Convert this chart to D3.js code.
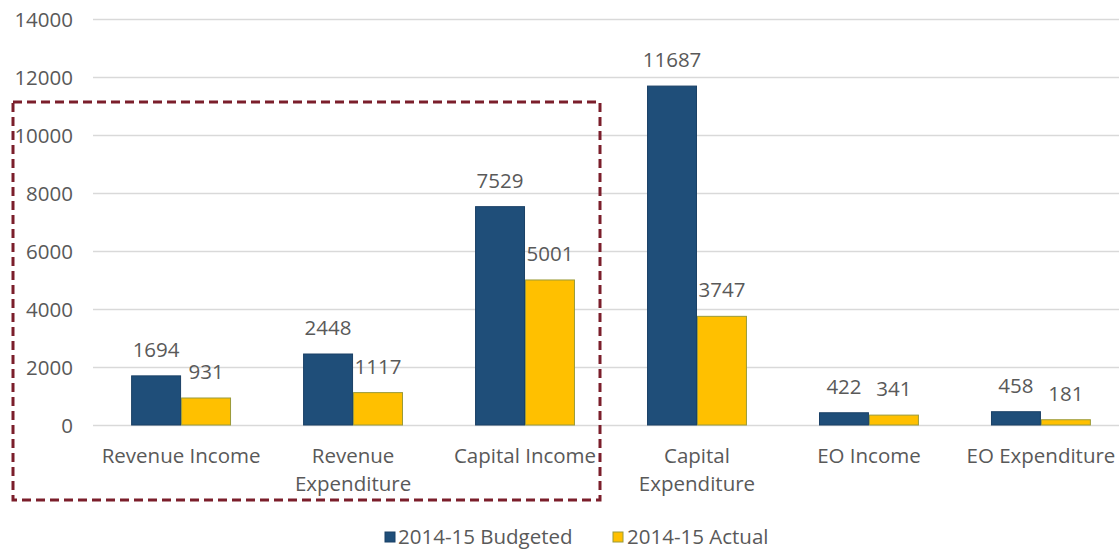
<!DOCTYPE html>
<html>
<head>
<meta charset="utf-8">
<script src="https://cdn.jsdelivr.net/npm/d3@7"></script>
<style>
  html, body { margin: 0; padding: 0; background: #ffffff; }
  svg { display: block; }
  text { font-family: "Open Sans", Lato, sans-serif; fill: #595959; }
</style>
</head>
<body>
<svg id="chart" width="1119" height="549"></svg>
<script>
// Budget vs actual, 2014-15
const categories = [
  ["Revenue Income"],
  ["Revenue", "Expenditure"],
  ["Capital Income"],
  ["Capital", "Expenditure"],
  ["EO Income"],
  ["EO Expenditure"]
];
const seriesNames = ["2014-15 Budgeted", "2014-15 Actual"];
const budgeted = [1694, 2448, 7529, 11687, 422, 458];
const actual = [931, 1117, 5001, 3747, 341, 181];
const yTicks = [0, 2000, 4000, 6000, 8000, 10000, 12000, 14000];

const colors = ["#1F4E79", "#FFC000"];
const strokes = ["#1a4066", "#9a9a3a"];
const fontSize = 20.5;

const svg = d3.select("#chart");
const catKeys = categories.map(c => c.join(" "));

const x = d3.scaleBand()
  .domain(catKeys)
  .range([95, 1127])
  .paddingInner(0.419)
  .paddingOuter(0.21);

const sub = d3.scaleBand()
  .domain(seriesNames)
  .range([0, x.bandwidth()]);

const y = d3.scaleLinear()
  .domain([0, 14000])
  .range([425, 19]);

// gridlines
svg.append("g")
  .selectAll("line")
  .data(yTicks)
  .join("line")
  .attr("x1", 93)
  .attr("x2", 1119)
  .attr("y1", d => y(d) + 0.5)
  .attr("y2", d => y(d) + 0.5)
  .attr("stroke", "#d9d9d9")
  .attr("stroke-width", 1.3);

// y axis labels
const yAxis = d3.axisLeft(y).tickValues(yTicks).tickFormat(d3.format("d")).tickSize(0).tickPadding(0);
const yg = svg.append("g").attr("transform", "translate(73,0)").call(yAxis);
yg.select(".domain").remove();
yg.selectAll("text")
  .attr("font-size", fontSize)
  .attr("font-family", "'Open Sans', Lato, sans-serif")
  .attr("fill", "#595959")
  .attr("dy", "0.35em");

// bars
const rows = catKeys.map((k, i) => ({ key: k, values: [budgeted[i], actual[i]] }));

const groups = svg.append("g")
  .selectAll("g")
  .data(rows)
  .join("g")
  .attr("transform", d => `translate(${x(d.key)},0)`);

groups.selectAll("rect")
  .data(d => d.values.map((v, j) => ({ v, j })))
  .join("rect")
  .attr("x", d => sub(seriesNames[d.j]) + 0.5)
  .attr("y", d => y(d.v))
  .attr("width", sub.bandwidth() - 1)
  .attr("height", d => y(0) - y(d.v))
  .attr("fill", d => colors[d.j])
  .attr("stroke", d => strokes[d.j])
  .attr("stroke-width", 1);

// value labels
groups.selectAll("text.val")
  .data(d => d.values.map((v, j) => ({ v, j })))
  .join("text")
  .attr("class", "val")
  .attr("x", d => sub(seriesNames[d.j]) + sub.bandwidth() / 2)
  .attr("y", d => y(d.v) - 19)
  .attr("text-anchor", "middle")
  .attr("font-size", fontSize)
  .attr("fill", "#404040")
  .text(d => d.v);

// category labels
groups.append("text")
  .attr("x", x.bandwidth() / 2)
  .attr("y", 463)
  .attr("text-anchor", "middle")
  .attr("font-size", fontSize)
  .selectAll("tspan")
  .data(d => categories[catKeys.indexOf(d.key)])
  .join("tspan")
  .attr("x", x.bandwidth() / 2)
  .attr("dy", (d, i) => i === 0 ? 0 : 28)
  .text(d => d);

// dashed highlight around the first three categories
svg.append("rect")
  .attr("x", 13)
  .attr("y", 102)
  .attr("width", 587)
  .attr("height", 398)
  .attr("fill", "none")
  .attr("stroke", "#7B1E2B")
  .attr("stroke-width", 3)
  .attr("stroke-dasharray", "9,5");

// legend
const legend = svg.append("g");
const legendItems = [
  { name: seriesNames[0], x: 385, textX: 398 },
  { name: seriesNames[1], x: 613, textX: 627 }
];
legend.selectAll("rect")
  .data(legendItems)
  .join("rect")
  .attr("x", d => d.x)
  .attr("y", 532)
  .attr("width", 10)
  .attr("height", 10)
  .attr("fill", (d, i) => colors[i])
  .attr("stroke", (d, i) => strokes[i])
  .attr("stroke-width", 1);
legend.selectAll("text")
  .data(legendItems)
  .join("text")
  .attr("x", d => d.textX)
  .attr("y", 544)
  .attr("font-size", fontSize)
  .text(d => d.name);
</script>
</body>
</html>
